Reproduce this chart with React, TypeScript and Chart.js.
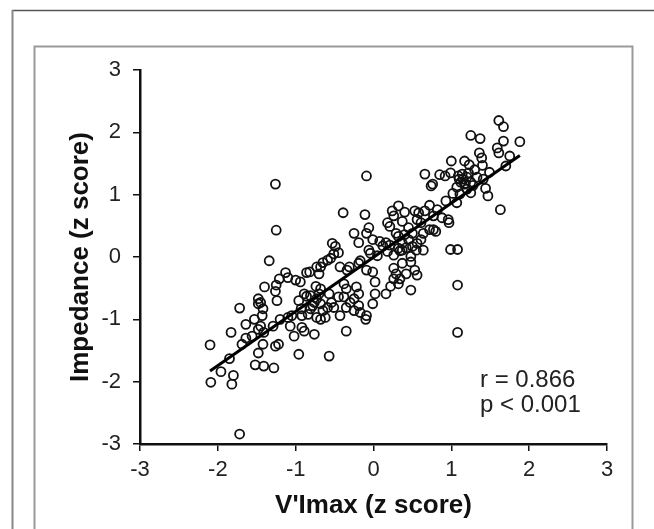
import React, { useEffect, useRef } from "react";
import { Chart, registerables } from "chart.js";

Chart.register(...registerables);

// V'Imax (z score)
const xs: number[] = [
  1.61, 1.67, 1.25, 1.37, 1.88, 1.67, 1.59, 1.61, 1.75, 1.36,
  1.39, 1.40, 1.70, 1.00, 1.17, 1.23, 1.30, 1.49, 0.66, 0.85,
  0.99, 1.09, 1.15, 1.20, 1.12, 1.17, 1.25, 1.33, 1.41, 0.76,
  0.74, 0.92, 1.07, 1.20, 1.25, 1.11, 1.02, 1.07, 1.44, 1.47,
  1.63, 0.93, 0.82, 0.72, 0.77, 0.88, 0.97, 0.66, 0.58, 0.53,
  0.40, 0.32, 0.24, 0.26, 0.37, 0.18, 0.21, 0.56, 0.61, 0.72,
  0.80, 0.77, 0.64, 0.50, 0.45, 0.40, 0.32, 0.29, 0.61, 0.56,
  0.45, 0.37, 0.50, 0.64, 0.55, 0.37, 0.32, 0.34, 0.21, 0.16,
  0.08, -0.01, -0.09, -0.11, -0.39, -0.06, -0.09, -0.25, -0.19, -0.06,
  -0.04, 0.18, 0.26, 0.48, 0.48, 0.37, 0.26, 0.29, 0.26, 0.32,
  0.42, 0.53, 0.56, 0.48, 0.22, 0.16, 0.02, -0.01, -0.09, 0.02,
  -0.01, -0.09, -0.10, -0.17, -0.19, -0.25, -0.22, -0.19, -0.25, -0.30,
  -0.35, -0.38, -0.35, -0.38, -0.34, -0.31, -0.19, -0.17, -0.43, -0.35,
  -0.43, -0.51, -0.57, -0.54, -0.57, -0.53, -0.49, -0.45, -0.51, -0.55,
  -0.59, -0.65, -0.68, -0.73, -0.70, -0.82, -0.86, -0.94, -1.00, -1.10,
  -1.13, -1.21, -1.25, -1.26, -1.24, -1.26, -1.25, -1.34, -1.40, -1.48,
  -1.45, -1.48, -1.42, -1.43, -1.53, -1.64, -1.72, -1.83, -1.45, -1.48,
  -1.41, -1.56, -1.64, -1.69, -1.42, -1.48, -1.26, -1.22, -1.52, -1.41,
  -1.28, -2.10, -1.85, -1.96, -1.80, -2.09, -1.82, -1.72, -1.29, -1.20,
  -1.10, -1.05, -1.07, -1.02, -0.96, -0.92, -0.89, -0.76, -0.96, -0.89,
  -0.86, -0.93, -0.92, -0.84, -0.81, -0.78, -0.76, -0.73, -0.70, -0.68,
  -0.74, -0.81, -0.73, -0.68, -0.62, -0.65, -0.59, -0.68, -0.45, 0.99,
  1.08, 1.08, 1.08, 0.96, 0.34, 1.14, 1.18, 1.10, 1.22, 1.28,
  0.12, 0.42, 0.05
];

// Impedance (z score)
const ys: number[] = [
  2.19, 2.09, 1.95, 1.90, 1.85, 1.86, 1.75, 1.67, 1.62, 1.67,
  1.59, 1.47, 1.46, 1.54, 1.54, 1.48, 1.40, 1.36, 1.33, 1.32,
  1.35, 1.30, 1.25, 1.28, 1.20, 1.17, 1.20, 1.28, 1.25, 1.17,
  1.14, 1.30, 1.12, 1.09, 1.03, 1.01, 1.02, 0.87, 1.10, 0.98,
  0.76, 0.90, 0.76, 0.83, 0.66, 0.63, 0.55, 0.74, 0.71, 0.74,
  0.72, 0.82, 0.74, 0.66, 0.57, 0.55, 0.49, 0.60, 0.55, 0.44,
  0.41, 0.44, 0.38, 0.38, 0.47, 0.36, 0.33, 0.38, 0.28, 0.22,
  0.28, 0.22, 0.17, 0.11, 0.11, 0.11, 0.14, 0.10, 0.19, 0.23,
  0.25, 0.28, 1.30, 0.68, 0.71, 0.47, 0.38, 0.38, 0.23, 0.11,
  0.06, 0.09, 0.03, 0.01, -0.08, -0.10, -0.18, -0.27, -0.35, -0.43,
  -0.27, -0.21, -0.29, -0.53, -0.47, -0.59, -0.40, -0.24, -0.21, -0.59,
  -0.75, -0.94, -1.00, -0.89, -0.78, -0.86, -0.48, -0.59, -0.67, -0.73,
  -0.81, -0.64, -0.51, -0.43, -0.21, -0.16, -0.10, -0.06, -0.16, -1.19,
  -0.94, -0.81, -1.59, -0.73, -0.59, 0.22, 0.17, 0.07, 0.05, -0.02,
  -0.05, -0.09, -0.16, -0.16, -0.27, -0.24, -0.25, -0.40, -0.37, -0.33,
  -0.25, -0.35, -0.45, -0.55, -0.70, 1.17, 0.43, -0.06, -0.48, -0.67,
  -0.73, -0.75, -0.83, -0.94, -1.00, -1.08, -0.82, -1.21, -1.11, -1.16,
  -1.21, -1.27, -1.30, -1.40, -1.40, -1.54, -1.43, -1.40, -1.73, -1.75,
  -1.78, -1.41, -1.63, -1.84, -1.90, -2.01, -2.04, -2.84, -1.11, -1.00,
  -0.97, -0.94, -1.11, -1.27, -1.56, -1.13, -1.19, -1.24, -0.70, -0.59,
  -0.63, -0.83, -0.94, -0.92, -0.83, -0.78, -0.73, -0.67, -0.59, -0.51,
  -0.47, -0.62, -0.97, -1.00, -0.97, -0.86, -0.81, -0.75, -0.64, 0.12,
  0.12, -0.45, -1.21, 0.60, -0.35, 1.33, 1.18, 1.25, 1.35, 1.15,
  0.18, 0.15, 0.02
];

// Regression line end points
const fitX: number[] = [-2.1, 1.88];
const fitY: number[] = [-1.83, 1.63];

const tickValues: number[] = [-3, -2, -1, 0, 1, 2, 3];
const xTitle = "V'Imax (z score)";
const yTitle = "Impedance (z score)";
const statLines: string[] = ["r = 0.866", "p < 0.001"];

const FONT = "'Liberation Sans', Arial, Helvetica, sans-serif";

const framePlugin = {
  id: "framePlugin",
  beforeDraw(chart: any) {
    const ctx = chart.ctx;
    ctx.save();
    ctx.fillStyle = "#ffffff";
    ctx.fillRect(0, 0, chart.width, chart.height);
    // outer frame
    ctx.strokeStyle = "#555555";
    ctx.lineWidth = 1.5;
    ctx.beginPath();
    ctx.moveTo(12, 10.5);
    ctx.lineTo(chart.width, 10.5);
    ctx.stroke();
    ctx.strokeStyle = "#888888";
    ctx.lineWidth = 2;
    ctx.beginPath();
    ctx.moveTo(12.5, 10);
    ctx.lineTo(12.5, chart.height);
    ctx.stroke();
    // inner box
    ctx.strokeStyle = "#9a9a9a";
    ctx.lineWidth = 2;
    ctx.beginPath();
    ctx.moveTo(34.5, chart.height);
    ctx.lineTo(34.5, 46.5);
    ctx.lineTo(632.5, 46.5);
    ctx.lineTo(632.5, chart.height);
    ctx.stroke();
    ctx.restore();
  },
  afterDraw(chart: any) {
    const ctx = chart.ctx;
    ctx.save();
    ctx.fillStyle = "#222222";
    ctx.font = "24px " + FONT;
    ctx.textAlign = "left";
    ctx.textBaseline = "alphabetic";
    ctx.fillText(statLines[0], 480, 387);
    ctx.fillText(statLines[1], 480, 412);
    ctx.restore();
  },
};

export default function App() {
  const ref = useRef<HTMLCanvasElement | null>(null);
  useEffect(() => {
    if (!ref.current) return;
    const points = xs.map((x, i) => ({ x, y: ys[i] }));
    const line = fitX.map((x, i) => ({ x, y: fitY[i] }));
    const chart = new Chart(ref.current, {
      type: "scatter",
      data: {
        datasets: [
          {
            type: "line",
            data: line,
            borderColor: "#000000",
            borderWidth: 3,
            pointRadius: 0,
            fill: false,
            order: 0,
          } as any,
          {
            data: points,
            pointStyle: "circle",
            pointRadius: 4.5,
            borderWidth: 1.8,
            borderColor: "#111111",
            backgroundColor: "rgba(0,0,0,0)",
            order: 1,
          },
        ],
      },
      plugins: [framePlugin],
      options: {
        responsive: false,
        animation: false,
        layout: { padding: { left: 0, top: 70, right: 47, bottom: 0 } },
        plugins: {
          legend: { display: false },
          tooltip: { enabled: false },
        },
        scales: {
          x: {
            type: "linear",
            min: -3,
            max: 3,
            afterBuildTicks: (s: any) => {
              s.ticks = tickValues.map((v) => ({ value: v }));
            },
            afterFit: (s: any) => {
              s.height = 85;
            },
            ticks: {
              color: "#222222",
              font: { family: FONT, size: 22 },
              padding: 6,
              maxRotation: 0,
            },
            grid: {
              display: true,
              drawOnChartArea: false,
              drawTicks: true,
              tickLength: 7,
              color: "#111111",
              lineWidth: 1.5,
            },
            border: { display: true, color: "#111111", width: 2.5 },
            title: {
              display: true,
              text: xTitle,
              color: "#111111",
              font: { family: FONT, size: 26, weight: "bold" },
              padding: { top: 0, bottom: 8 },
            },
          },
          y: {
            type: "linear",
            min: -3,
            max: 3,
            afterBuildTicks: (s: any) => {
              s.ticks = tickValues.map((v) => ({ value: v }));
            },
            afterFit: (s: any) => {
              s.width = 140;
            },
            ticks: {
              color: "#222222",
              font: { family: FONT, size: 22 },
              padding: 12,
            },
            grid: {
              display: true,
              drawOnChartArea: false,
              drawTicks: true,
              tickLength: 7,
              color: "#111111",
              lineWidth: 1.5,
            },
            border: { display: true, color: "#111111", width: 2.5 },
            title: {
              display: true,
              text: yTitle,
              color: "#111111",
              font: { family: FONT, size: 26, weight: "bold" },
              padding: { top: 65, bottom: 0 },
            },
          },
        },
      },
    });
    return () => chart.destroy();
  }, []);
  return (
    <div style={{ position: "absolute", left: 0, top: 0, width: 654, height: 529, background: "#fff" }}>
      <canvas ref={ref} width={654} height={529} style={{ display: "block" }} />
    </div>
  );
}
